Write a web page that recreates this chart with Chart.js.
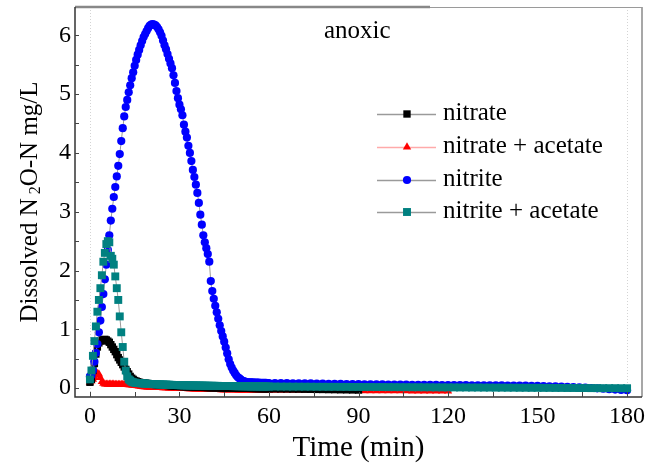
<!DOCTYPE html>
<html>
<head>
<meta charset="utf-8">
<script src="https://cdn.jsdelivr.net/npm/chart.js@4.4.0/dist/chart.umd.min.js"></script>
<style>
  html, body { margin: 0; padding: 0; background: #fff; }
  #wrap { width: 657px; height: 468px; position: relative; }
</style>
</head>
<body>
<div id="wrap"><canvas id="chart"></canvas></div>
<script>
// sampling times (min): every 0.5 min up to 60, then every 2 min
const times = [
  0, 0.5, 1, 1.5, 2, 2.5, 3, 3.5, 4, 4.5,
  5, 5.5, 6, 6.5, 7, 7.5, 8, 8.5, 9, 9.5,
  10, 10.5, 11, 11.5, 12, 12.5, 13, 13.5, 14, 14.5,
  15, 15.5, 16, 16.5, 17, 17.5, 18, 18.5, 19, 19.5,
  20, 20.5, 21, 21.5, 22, 22.5, 23, 23.5, 24, 24.5,
  25, 25.5, 26, 26.5, 27, 27.5, 28, 28.5, 29, 29.5,
  30, 30.5, 31, 31.5, 32, 32.5, 33, 33.5, 34, 34.5,
  35, 35.5, 36, 36.5, 37, 37.5, 38, 38.5, 39, 39.5,
  40, 40.5, 41, 41.5, 42, 42.5, 43, 43.5, 44, 44.5,
  45, 45.5, 46, 46.5, 47, 47.5, 48, 48.5, 49, 49.5,
  50, 50.5, 51, 51.5, 52, 52.5, 53, 53.5, 54, 54.5,
  55, 55.5, 56, 56.5, 57, 57.5, 58, 58.5, 59, 59.5,
  60,
  62, 64, 66, 68, 70, 72, 74, 76, 78, 80,
  82, 84, 86, 88, 90, 92, 94, 96, 98, 100,
  102, 104, 106, 108, 110, 112, 114, 116, 118, 120,
  122, 124, 126, 128, 130, 132, 134, 136, 138, 140,
  142, 144, 146, 148, 150, 152, 154, 156, 158, 160,
  162, 164, 166, 168, 170, 172, 174, 176, 178, 180
];

// nitrate (ends at 90 min)
const nitrate = [
  0.10, 0.15, 0.30, 0.42, 0.58, 0.70, 0.77, 0.80, 0.82, 0.82,
  0.83, 0.82, 0.80, 0.78, 0.74, 0.70, 0.66, 0.62, 0.57, 0.52,
  0.48, 0.44, 0.40, 0.36, 0.32, 0.28, 0.24, 0.20, 0.17, 0.15,
  0.13, 0.12, 0.11, 0.10, 0.095, 0.090, 0.087, 0.084, 0.081, 0.078,
  0.075, 0.072, 0.069, 0.066, 0.063, 0.060, 0.058, 0.056, 0.054, 0.052,
  0.050, 0.048, 0.046, 0.044, 0.042, 0.040, 0.038, 0.036, 0.034, 0.032,
  0.030, 0.029, 0.028, 0.027, 0.026, 0.025, 0.024, 0.023, 0.022, 0.021,
  0.020, 0.019, 0.018, 0.017, 0.016, 0.015, 0.014, 0.013, 0.012, 0.011,
  0.010, 0.010, 0.009, 0.009, 0.008, 0.008, 0.007, 0.007, 0.006, 0.006,
  0.005, 0.005, 0.004, 0.004, 0.003, 0.003, 0.002, 0.002, 0.001, 0.001,
  0.000, 0.000, -0.001, -0.001, -0.002, -0.002, -0.003, -0.003, -0.004, -0.004,
  -0.005, -0.005, -0.006, -0.006, -0.007, -0.007, -0.008, -0.008, -0.009, -0.009,
  -0.010,
  -0.011, -0.012, -0.013, -0.015, -0.016, -0.018, -0.019, -0.021, -0.022, -0.024,
  -0.025, -0.027, -0.028, -0.030, -0.032
];

// nitrate + acetate (ends at 120 min)
const nitrateAcetate = [
  0.10, 0.12, 0.15, 0.18, 0.22, 0.25, 0.24, 0.18, 0.11, 0.08,
  0.070, 0.068, 0.066, 0.065, 0.065, 0.064, 0.064, 0.063, 0.063, 0.062,
  0.062, 0.062, 0.061, 0.061, 0.060, 0.060, 0.058, 0.056, 0.053, 0.050,
  0.046, 0.042, 0.038, 0.034, 0.030, 0.027, 0.024, 0.022, 0.020, 0.018,
  0.016, 0.015, 0.014, 0.013, 0.012, 0.011, 0.010, 0.009, 0.008, 0.007,
  0.006, 0.005, 0.004, 0.003, 0.002, 0.001, 0.000, -0.001, -0.002, -0.003,
  -0.004, -0.005, -0.006, -0.007, -0.008, -0.009, -0.010, -0.011, -0.012, -0.013,
  -0.014, -0.015, -0.016, -0.017, -0.018, -0.019, -0.020, -0.021, -0.022, -0.022,
  -0.023, -0.023, -0.024, -0.024, -0.025, -0.025, -0.026, -0.026, -0.027, -0.027,
  -0.028, -0.028, -0.028, -0.029, -0.029, -0.029, -0.030, -0.030, -0.030, -0.031,
  -0.031, -0.031, -0.031, -0.032, -0.032, -0.032, -0.032, -0.033, -0.033, -0.033,
  -0.033, -0.034, -0.034, -0.034, -0.034, -0.035, -0.035, -0.035, -0.035, -0.036,
  -0.036,
  -0.036, -0.037, -0.037, -0.038, -0.038, -0.039, -0.039, -0.040, -0.040, -0.041,
  -0.041, -0.042, -0.042, -0.043, -0.043, -0.044, -0.044, -0.045, -0.045, -0.046,
  -0.046, -0.047, -0.047, -0.048, -0.048, -0.049, -0.049, -0.050, -0.050, -0.050
];

// nitrite
const nitrite = [
  0.20, 0.22, 0.30, 0.45, 0.60, 0.75, 0.95, 1.15, 1.38, 1.60,
  1.85, 2.10, 2.35, 2.60, 2.85, 3.05, 3.25, 3.42, 3.60, 3.78,
  3.98, 4.20, 4.42, 4.62, 4.78, 4.90, 5.03, 5.15, 5.27, 5.37,
  5.48, 5.58, 5.67, 5.75, 5.83, 5.90, 5.97, 6.02, 6.07, 6.12,
  6.16, 6.18, 6.19, 6.18, 6.17, 6.14, 6.10, 6.05, 5.99, 5.91,
  5.83, 5.76, 5.68, 5.60, 5.52, 5.44, 5.32, 5.19, 5.05, 4.93,
  4.82, 4.74, 4.64, 4.48, 4.36, 4.26, 4.12, 4.00, 3.86, 3.71,
  3.59, 3.46, 3.32, 3.15, 2.95, 2.78, 2.60, 2.48, 2.38, 2.28,
  2.15, 1.82, 1.65, 1.52, 1.40, 1.29, 1.18, 1.07, 0.97, 0.88,
  0.79, 0.69, 0.59, 0.49, 0.41, 0.35, 0.30, 0.26, 0.22, 0.19,
  0.17, 0.15, 0.13, 0.12, 0.11, 0.105, 0.10, 0.10, 0.098, 0.097,
  0.096, 0.095, 0.094, 0.093, 0.092, 0.091, 0.090, 0.090, 0.089, 0.088,
  0.088,
  0.087, 0.086, 0.085, 0.084, 0.082, 0.081, 0.080, 0.078, 0.077, 0.075,
  0.074, 0.072, 0.071, 0.070, 0.068, 0.067, 0.066, 0.064, 0.063, 0.062,
  0.061, 0.060, 0.059, 0.058, 0.057, 0.056, 0.055, 0.055, 0.054, 0.053,
  0.052, 0.052, 0.051, 0.050, 0.050, 0.049, 0.048, 0.047, 0.046, 0.045,
  0.044, 0.043, 0.042, 0.040, 0.038, 0.036, 0.033, 0.030, 0.026, 0.022,
  0.018, 0.013, 0.008, 0.003, -0.003, -0.010, -0.017, -0.024, -0.030, -0.035
];

// nitrite + acetate
const nitriteAcetate = [
  0.15, 0.30, 0.55, 0.80, 1.05, 1.30, 1.50, 1.70, 1.92, 2.15,
  2.30, 2.45, 2.50, 2.48, 2.25, 2.20, 2.10, 1.90, 1.70, 1.50,
  1.22, 0.95, 0.70, 0.45, 0.30, 0.20, 0.15, 0.13, 0.11, 0.10,
  0.095, 0.090, 0.088, 0.086, 0.084, 0.082, 0.080, 0.078, 0.076, 0.074,
  0.072, 0.070, 0.069, 0.068, 0.067, 0.066, 0.065, 0.064, 0.063, 0.062,
  0.061, 0.060, 0.059, 0.058, 0.057, 0.056, 0.055, 0.054, 0.053, 0.052,
  0.051, 0.050, 0.050, 0.049, 0.049, 0.048, 0.048, 0.047, 0.047, 0.046,
  0.046, 0.045, 0.045, 0.044, 0.044, 0.043, 0.043, 0.042, 0.042, 0.041,
  0.041, 0.040, 0.040, 0.040, 0.039, 0.039, 0.039, 0.038, 0.038, 0.038,
  0.037, 0.037, 0.037, 0.036, 0.036, 0.036, 0.035, 0.035, 0.035, 0.034,
  0.034, 0.034, 0.033, 0.033, 0.033, 0.032, 0.032, 0.032, 0.031, 0.031,
  0.031, 0.031, 0.030, 0.030, 0.030, 0.030, 0.029, 0.029, 0.029, 0.029,
  0.028,
  0.028, 0.027, 0.027, 0.026, 0.026, 0.025, 0.025, 0.024, 0.024, 0.023,
  0.023, 0.022, 0.022, 0.021, 0.021, 0.020, 0.020, 0.019, 0.019, 0.018,
  0.018, 0.017, 0.017, 0.016, 0.016, 0.015, 0.015, 0.014, 0.014, 0.013,
  0.013, 0.012, 0.012, 0.011, 0.011, 0.010, 0.010, 0.009, 0.009, 0.008,
  0.008, 0.007, 0.007, 0.006, 0.006, 0.005, 0.005, 0.004, 0.004, 0.003,
  0.003, 0.002, 0.002, 0.001, 0.001, 0.000, 0.000, 0.000, -0.001, -0.001
];

const xTickLabels = [0, 30, 60, 90, 120, 150, 180];
const xMinorTicks = [0, 15, 30, 45, 60, 75, 90, 105, 120, 135, 150, 165, 180];
const yTickLabels = [0, 1, 2, 3, 4, 5, 6];
const yMinorTicks = [0, 0.5, 1, 1.5, 2, 2.5, 3, 3.5, 4, 4.5, 5, 5.5, 6];

const seriesNames = ['nitrate', 'nitrate + acetate', 'nitrite', 'nitrite + acetate'];

const SERIF = '"Liberation Serif", "DejaVu Serif", serif';

function toPoints(values) {
  return values.map((v, i) => ({ x: times[i], y: v }));
}

const styles = [
  { color: '#000000', line: '#9a9a9a', shape: 'rect', r: 5.2, order: 2 },
  { color: '#ff0000', line: '#ffaaaa', shape: 'triangle', r: 4.8, order: 3 },
  { color: '#0000ff', line: '#9a9a9a', shape: 'circle', r: 4.1, order: 1 },
  { color: '#008080', line: '#9a9a9a', shape: 'rect', r: 5.6, order: 0 },
];
const allSeries = [nitrate, nitrateAcetate, nitrite, nitriteAcetate];

const datasets = allSeries.map((vals, i) => ({
  label: seriesNames[i],
  data: toPoints(vals),
  borderColor: styles[i].line,
  borderWidth: 1,
  backgroundColor: styles[i].color,
  pointBackgroundColor: styles[i].color,
  pointBorderColor: styles[i].color,
  pointBorderWidth: 0,
  pointStyle: styles[i].shape,
  pointRadius: styles[i].r,
  pointHoverRadius: styles[i].r,
  showLine: true,
  tension: 0,
  order: styles[i].order,
}));

function drawMarker(ctx, shape, x, y, r, color) {
  ctx.fillStyle = color;
  ctx.beginPath();
  if (shape === 'rect') {
    const s = Math.SQRT1_2 * r;
    ctx.rect(x - s, y - s, 2 * s, 2 * s);
  } else if (shape === 'triangle') {
    ctx.moveTo(x, y - r);
    ctx.lineTo(x + r * 0.87, y + r * 0.5);
    ctx.lineTo(x - r * 0.87, y + r * 0.5);
    ctx.closePath();
  } else {
    ctx.arc(x, y, r, 0, Math.PI * 2);
  }
  ctx.fill();
}

const framePlugin = {
  id: 'frame',
  beforeDatasetsDraw(chart) {
    const { ctx, chartArea: a, scales: { x } } = chart;
    ctx.save();
    ctx.strokeStyle = '#d4d4d4';
    ctx.lineWidth = 1;
    ctx.setLineDash([1, 2]);
    [0, 180].forEach(v => {
      const px = Math.round(x.getPixelForValue(v)) + 0.5;
      ctx.beginPath();
      ctx.moveTo(px, a.top);
      ctx.lineTo(px, a.bottom);
      ctx.stroke();
    });
    ctx.restore();
  },
  afterDraw(chart) {
    const { ctx, chartArea: a, scales: { x, y } } = chart;
    ctx.save();

    // box
    ctx.strokeStyle = '#8a8a8a';
    ctx.lineWidth = 1.5;
    ctx.beginPath();
    ctx.moveTo(a.right, a.top);
    ctx.lineTo(a.right, a.bottom);
    ctx.stroke();
    ctx.lineWidth = 1;
    ctx.strokeStyle = '#9a9a9a';
    ctx.beginPath();
    ctx.moveTo(430, a.top + 0.5);
    ctx.lineTo(a.right, a.top + 0.5);
    ctx.stroke();
    ctx.strokeStyle = '#888';
    ctx.lineWidth = 2.5;
    ctx.beginPath();
    ctx.moveTo(a.left, a.top);
    ctx.lineTo(430, a.top);
    ctx.stroke();

    ctx.strokeStyle = '#333';
    ctx.lineWidth = 1.5;
    ctx.beginPath();
    ctx.moveTo(a.left, a.top);
    ctx.lineTo(a.left, a.bottom);
    ctx.lineTo(a.right, a.bottom);
    ctx.stroke();

    // inward ticks
    ctx.lineWidth = 1;
    ctx.strokeStyle = '#444';
    yMinorTicks.forEach(v => {
      const py = Math.round(y.getPixelForValue(v)) + 0.5;
      ctx.beginPath();
      ctx.moveTo(a.left, py);
      ctx.lineTo(a.left + 4, py);
      ctx.stroke();
    });
    xMinorTicks.forEach(v => {
      const px = Math.round(x.getPixelForValue(v)) + 0.5;
      ctx.beginPath();
      ctx.moveTo(px, a.bottom);
      ctx.lineTo(px, a.bottom - 5);
      ctx.stroke();
    });

    // annotation
    ctx.fillStyle = '#000';
    ctx.font = '25px ' + SERIF;
    ctx.textBaseline = 'alphabetic';
    ctx.textAlign = 'left';
    ctx.fillText('anoxic', 324, 38);

    // legend
    const rows = [114, 147, 180, 212];
    ctx.font = '25px ' + SERIF;
    seriesNames.forEach((name, i) => {
      const ry = rows[i];
      ctx.strokeStyle = styles[i].line;
      ctx.lineWidth = 1.5;
      ctx.beginPath();
      ctx.moveTo(377, ry + 0.5);
      ctx.lineTo(436, ry + 0.5);
      ctx.stroke();
      drawMarker(ctx, styles[i].shape, 407, ry, styles[i].r, styles[i].color);
      ctx.fillStyle = '#000';
      ctx.fillText(name, 443, ry + 6);
    });

    // y title with subscript
    ctx.translate(30, 202);
    ctx.rotate(-Math.PI / 2);
    const big = '25px ' + SERIF;
    const small = '16px ' + SERIF;
    const parts = [
      { t: 'Dissolved N', f: big, dy: 0 },
      { t: ' 2', f: small, dy: 6 },
      { t: 'O-N mg/L', f: big, dy: 0 },
    ];
    let total = 0;
    parts.forEach(p => { ctx.font = p.f; p.w = ctx.measureText(p.t).width; total += p.w; });
    let cx = -total / 2;
    ctx.fillStyle = '#000';
    ctx.textBaseline = 'middle';
    parts.forEach(p => {
      ctx.font = p.f;
      ctx.fillText(p.t, cx, p.dy);
      cx += p.w;
    });
    ctx.restore();
  }
};

new Chart(document.getElementById('chart'), {
  type: 'scatter',
  data: { datasets },
  options: {
    responsive: true,
    maintainAspectRatio: false,
    animation: false,
    layout: { autoPadding: false, padding: { top: 7, right: 15, left: 0, bottom: 0 } },
    plugins: {
      legend: { display: false },
      tooltip: { enabled: false },
    },
    scales: {
      x: {
        type: 'linear',
        min: -5,
        max: 185,
        grid: { display: false, drawTicks: false },
        border: { display: false },
        afterBuildTicks: s => { s.ticks = xTickLabels.map(v => ({ value: v })); },
        afterFit: s => { s.height = 71; s.paddingLeft = 0; s.paddingRight = 0; },
        ticks: {
          color: '#000',
          padding: 5,
          maxRotation: 0,
          font: { family: SERIF, size: 24 },
        },
        title: {
          display: true,
          text: 'Time (min)',
          color: '#000',
          padding: { top: 0, bottom: 2 },
          font: { family: SERIF, size: 29 },
        },
      },
      y: {
        type: 'linear',
        min: -0.15,
        max: 6.48,
        grid: { display: false, drawTicks: false },
        border: { display: false },
        afterBuildTicks: s => { s.ticks = yTickLabels.map(v => ({ value: v })); },
        afterFit: s => { s.width = 75; s.paddingTop = 0; s.paddingBottom = 0; },
        ticks: {
          color: '#000',
          padding: 4,
          font: { family: SERIF, size: 24 },
        },
      },
    },
  },
  plugins: [framePlugin],
});
</script>
</body>
</html>
